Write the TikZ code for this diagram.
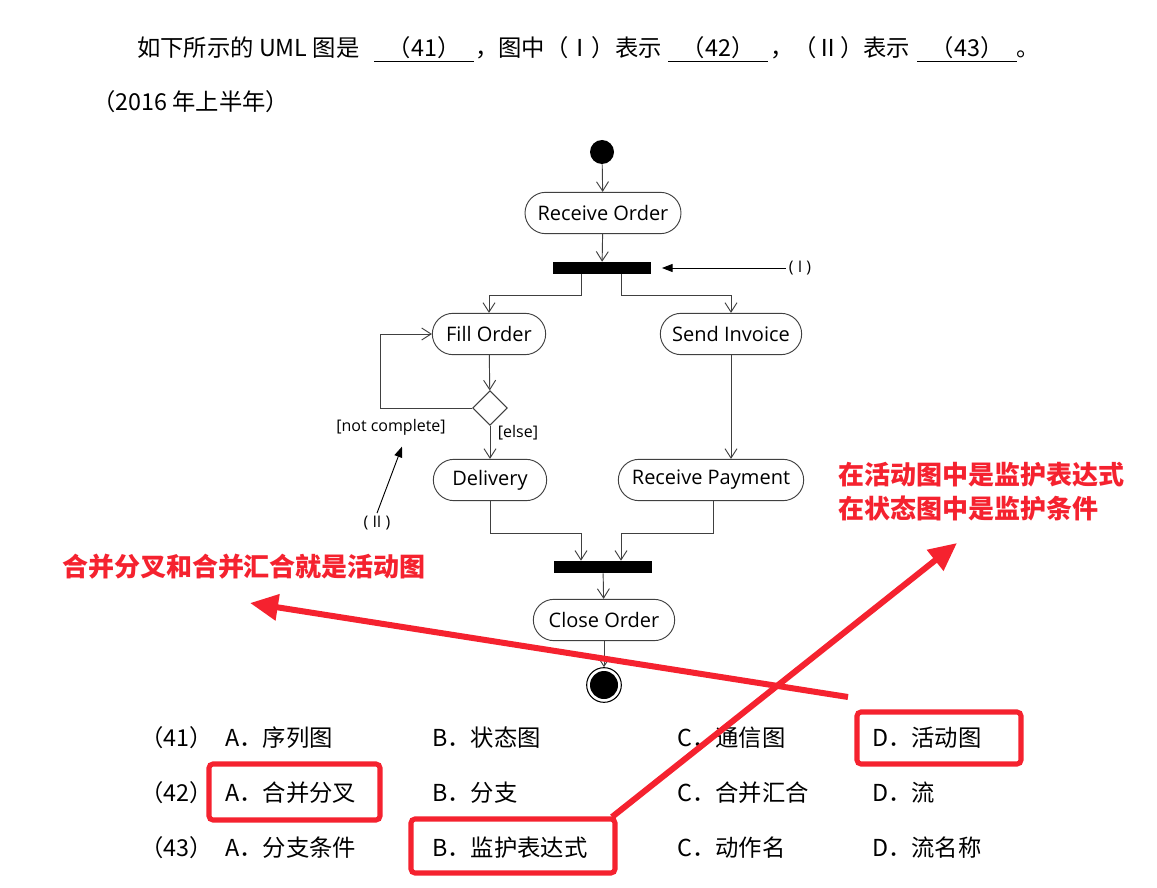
\documentclass[tikz,border=0pt]{standalone}
\usepackage{fontspec}
\usepackage{tikz}
\usetikzlibrary{arrows.meta,positioning,shapes.geometric,calc}
\newfontfamily\cjk{Noto Sans CJK SC}
\newfontfamily\umlfont{Open Sans}
\definecolor{umlgray}{HTML}{404040}
\definecolor{markred}{HTML}{F5222F}
\tikzset{
  uml/action/.style={draw=umlgray, line width=0.7pt, rounded corners=15.5pt, minimum height=31pt, inner xsep=6pt, font=\umlfont\fontsize{15}{18}\selectfont},
  uml/bar/.style={fill=black, minimum width=73pt, minimum height=9pt, inner sep=0pt},
  uml/decision/.style={draw=umlgray, line width=0.7pt, diamond, aspect=1, minimum size=26pt, inner sep=0pt},
  uml/start/.style={circle, fill=black, minimum size=18pt, inner sep=0pt},
  uml/final/.style={circle, draw=black, line width=0.8pt, minimum size=26pt, inner sep=0pt,
    path picture={\fill[black] (path picture bounding box.center) circle (10.5pt);}},
  uml/guard/.style={font=\umlfont\fontsize{12}{14}\selectfont, inner sep=1pt},
  uml/note/.style={font=\umlfont\fontsize{12}{14}\selectfont, inner sep=2pt},
  uml/flow/.style={draw=umlgray, line width=0.7pt, -{Straight Barb[length=7pt,width=9pt]}},
  uml/pointer/.style={draw=black, line width=0.7pt, -{Triangle[length=8pt,width=6pt]}},
  q/text/.style={font=\cjk\fontsize{17.5}{20}\selectfont, inner sep=0pt, anchor=base west},
  q/blank/.style={q/text, minimum width=75pt},
  q/opt/.style={font=\cjk\fontsize{17.5}{20}\selectfont, inner sep=0pt, anchor=base west},
  mark/text/.style={font=\cjk\bfseries\fontsize{19.5}{25.5}\selectfont, text=markred, inner sep=0pt, align=left},
  mark/box/.style={draw=markred, line width=3.8pt, rounded corners=3pt},
  mark/arrow/.style={draw=markred, line width=4.5pt, -{Triangle[length=21pt,width=19pt]}}
}
\newcommand{\blankfill}[1]{\underline{\makebox[75pt]{#1}}}

\begin{document}
\begin{tikzpicture}[x=0.75pt, y=-0.75pt]
  \useasboundingbox[fill=white] (0,0) rectangle (1157,888);

  % question stem
  \node[q/text] (stem1) at (137,57) {如下所示的 UML 图是};
  \node[q/text] (b41) at (374,57) {\blankfill{（41）}};
  \node[q/text] (stem2) at (475,57) {，图中（Ⅰ）表示};
  \node[q/text] (b42) at (668,57) {\blankfill{（42）}};
  \node[q/text] (stem3) at (770,57) {，（Ⅱ）表示};
  \node[q/text] (b43) at (917,57) {\blankfill{（43）}};
  \node[q/text] (stem4) at (1016,57) {。};
  \node[q/text] (year) at (92,111) {（2016 年上半年）};

  % activity diagram
  \node[uml/start] (start) at (602,152) {};
  \node[uml/action, minimum width=117pt] (recv) at (603,213) {Receive Order};
  \node[uml/bar] (fork) at (602,268) {};
  \node[uml/action, minimum width=85pt] (fill) at (489,334) {Fill Order};
  \node[uml/action, minimum width=106pt] (send) at (731,334) {Send Invoice};
  \node[uml/decision] (dec) at (490,408) {};
  \node[uml/action, minimum width=85pt] (deliv) at (490,480) {Delivery};
  \node[uml/action, minimum width=139pt] (pay) at (711,480) {Receive Payment};
  \node[uml/bar] (join) at (603,567) {};
  \node[uml/action, minimum width=106pt] (close) at (604,620) {Close Order};
  \node[uml/final] (final) at (604,685) {};

  \node[uml/guard] (notc) at (391,427) {[not complete]};
  \node[uml/guard] (els) at (518,433) {[else]};
  \node[uml/note] (labI) at (800,268) {( I )};
  \node[uml/note] (labII) at (377,523) {( II )};

  \draw[uml/flow] (start) -- (recv);
  \draw[uml/flow] (recv) -- (fork);
  \draw[uml/flow] ($(fork.south)+(-21,0)$) -- ++(0,21) -| (fill.north);
  \draw[uml/flow] ($(fork.south)+(19,0)$) -- ++(0,21) -| (send.north);
  \draw[uml/flow] (fill) -- (dec);
  \draw[uml/flow] (dec.west) -- ++(-92,0) |- (fill.west);
  \draw[uml/flow] (dec) -- (deliv);
  \draw[uml/flow] (send.south) -- (send.south |- pay.north);
  \draw[uml/flow] (deliv.south) -- ++(0,32) -| ($(join.north)+(-22,0)$);
  \draw[uml/flow] ($(pay.south)+(2,0)$) -- ++(0,32) -| ($(join.north)+(18,0)$);
  \draw[uml/flow] (join) -- (close);
  \draw[uml/flow] (close) -- (final);

  \draw[uml/pointer] (labI.west) -- ($(fork.east)+(11,0)$);
  \draw[uml/pointer] (labII.north) -- ($(notc.south)+(11,10)$);

  % answer options
  \foreach \n/\y/\a/\b/\c/\d in {41/746/序列图/状态图/通信图/活动图,
                                 42/801/合并分叉/分支/合并汇合/流,
                                 43/856/分支条件/监护表达式/动作名/流名称}{
    \node[q/opt] (q\n) at (140,\y) {（\n）};
    \node[q/opt] (q\n-a) at (225,\y) {A．\a};
    \node[q/opt] (q\n-b) at (432,\y) {B．\b};
    \node[q/opt] (q\n-c) at (677,\y) {C．\c};
    \node[q/opt] (q\n-d) at (872,\y) {D．\d};
  }

  % red marks
  \node[mark/text] (hint1) at (244,567) {合并分叉和合并汇合就是活动图};
  \node[mark/text, anchor=west] (hint2) at (838,492) {在活动图中是监护表达式\\在状态图中是监护条件};

  \draw[mark/box] (857,712) rectangle (1021,764);
  \draw[mark/box] (209,764) rectangle (380,820);
  \draw[mark/box] (411,819) rectangle (615,873);

  \coordinate (from1) at (848,697);
  \coordinate (tip1) at (250,603);
  \coordinate (from2) at (612,817);
  \coordinate (tip2) at (957,543);
  \draw[mark/arrow] (from1) -- (tip1);
  \draw[mark/arrow] (from2) -- (tip2);
\end{tikzpicture}
\end{document}
